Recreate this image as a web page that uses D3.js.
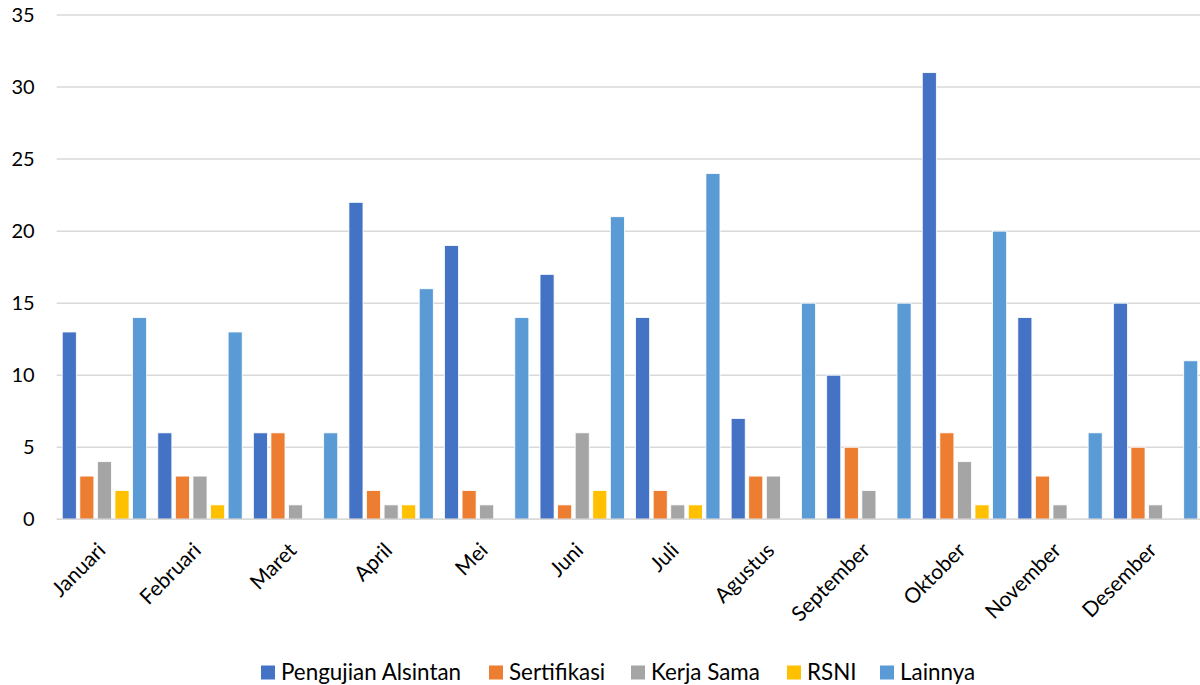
<!DOCTYPE html>
<html><head><meta charset="utf-8">
<script src="https://cdn.jsdelivr.net/npm/d3@7"></script>
<style>body{margin:0;background:#fff}svg{display:block}text{font-family:Lato,"Open Sans",sans-serif;fill:#000}</style>
</head><body>
<svg id="c" width="1200" height="685"></svg>
<script>
const months = ["Januari","Februari","Maret","April","Mei","Juni","Juli","Agustus","September","Oktober","November","Desember"];
const seriesNames = ["Pengujian Alsintan","Sertifikasi","Kerja Sama","RSNI","Lainnya"];
const colors = ["#4472C4","#ED7D31","#A5A5A5","#FFC000","#5B9BD5"];
const pengujian = [13,6,6,22,19,17,14,7,10,31,14,15];
const sertifikasi = [3,3,6,2,2,1,2,3,5,6,3,5];
const kerjaSama = [4,3,1,1,1,6,1,3,2,4,1,1];
const rsni = [2,1,0,1,0,2,1,0,0,1,0,0];
const lainnya = [14,13,6,16,14,21,24,15,15,20,6,11];
const yTicks = [0,5,10,15,20,25,30,35];
const seriesValues = [pengujian,sertifikasi,kerjaSama,rsni,lainnya];

const svg = d3.select("#c");
const pLeft = 56.7, pRight = 1203.3, pTop = 15, pBottom = 519.3;
const x = d3.scaleBand().domain(months).range([pLeft,pRight]).paddingInner(0.117).paddingOuter(0.058);
const xs = d3.scaleBand().domain(seriesNames).range([0,x.bandwidth()]).paddingInner(0.2).paddingOuter(0);
const y = d3.scaleLinear().domain([0,35]).range([pBottom,pTop]);

// grid
svg.append("g").selectAll("line").data(yTicks).join("line")
  .attr("x1",pLeft).attr("x2",1200).attr("y1",d=>y(d)).attr("y2",d=>y(d))
  .attr("stroke","#d9d9d9").attr("stroke-width",1.5);

// y labels
const ya = svg.append("g").attr("transform",`translate(${pLeft},0)`)
  .call(d3.axisLeft(y).tickValues(yTicks).tickSize(0).tickPadding(22));
ya.select(".domain").remove();
ya.selectAll("text").style("font-size","20px").style("font-family","Lato,'Open Sans',sans-serif");

// bars
const data = [];
months.forEach((m,i)=>seriesNames.forEach((s,j)=>data.push({m,s,j,v:seriesValues[j][i]})));
svg.append("g").selectAll("rect").data(data.filter(d=>d.v>0)).join("rect")
  .attr("x",d=>x(d.m)+xs(d.s)).attr("width",xs.bandwidth())
  .attr("y",d=>y(d.v)).attr("height",d=>y(0)-y(d.v))
  .attr("fill",d=>colors[d.j]).attr("stroke","#fff").attr("stroke-width",0.8);

// baseline
svg.append("line").attr("x1",pLeft).attr("x2",1200).attr("y1",y(0)).attr("y2",y(0))
  .attr("stroke","#d9d9d9").attr("stroke-width",1.5);

// x labels
svg.append("g").selectAll("text").data(months).join("text")
  .attr("transform",d=>`translate(${x(d)+x.bandwidth()/2-8},${pBottom+22}) rotate(-45)`)
  .attr("text-anchor","end").attr("dy","0.7em")
  .style("font-size","21px").text(d=>d);

// legend
const legX = [261,489,631,787,880];
const lg = svg.append("g").selectAll("g").data(seriesNames).join("g")
  .attr("transform",(d,i)=>`translate(${legX[i]},${672.5})`);
lg.append("rect").attr("x",0).attr("y",-7).attr("width",14).attr("height",14).attr("fill",(d,i)=>colors[i]);
lg.append("text").attr("x",20).attr("dy","0.35em").style("font-size","22.4px").text(d=>d);
</script>
</body></html>
